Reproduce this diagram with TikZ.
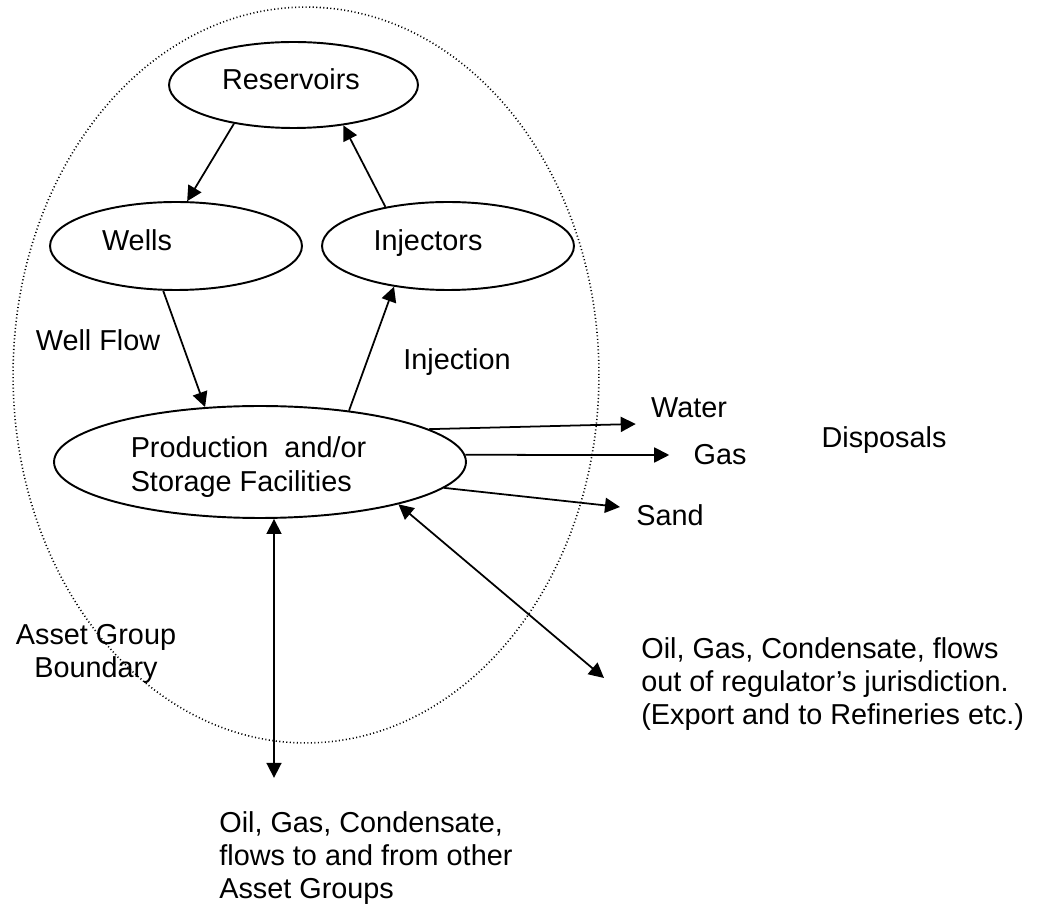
\documentclass[tikz,border=0pt]{standalone}
\usepackage{fontspec}
\setmainfont{Liberation Sans}
\usetikzlibrary{shapes.geometric, arrows.meta}
\tikzset{
    %Define standard arrow tip
    >={Triangle[length=0.3cm,width=0.3cm]},
    %Define style for the ellipses
    blob/.style={
           ellipse,
           draw=black, line width=1.1pt,
           minimum width=5.04cm,
           minimum height=1.76cm,
           inner sep=0pt},
    %plain text
    txt/.style={
           inner sep=0pt,
           align=left},
    %text inside the ellipses
    lab/.style={
           txt,
           text height=0.72em,
           text depth=0.2em},
    % Define arrow styles
    pil/.style={
           ->,
           line width=1pt},
    dpil/.style={
           <->,
           line width=1pt},
    %dotted boundary
    bound/.style={
           line width=0.9pt,
           dash pattern=on 0.6pt off 1.4pt}
}

\begin{document}
\begin{tikzpicture}[x=0.02cm, y=-0.02cm, font=\fontsize{16.4pt}{19pt}\selectfont]

\useasboundingbox (0,0) rectangle (1042,908);

%\fill[white] (0,0) rectangle (1042,908);

\draw[bound] (306,375) ellipse [x radius=5.86cm, y radius=7.36cm];

\node[blob] (res) at (293.5,85) [minimum width=4.98cm, minimum height=1.72cm,
      label={[lab, xshift=-0.05cm]center:Reservoirs}] {};
\node[blob] (wells) at (176,246) [label={[lab, xshift=-0.78cm]center:Wells}] {};
\node[blob] (inj) at (448,246) [label={[lab, xshift=-0.4cm]center:Injectors}] {};
\node[blob] (prod) at (260,462) [minimum width=8.24cm, minimum height=2.24cm,
      label={[txt, xshift=-0.23cm, yshift=-0.1cm]center:{Production\ \ and/or\\Storage Facilities}}] {};

\node[txt] (flow) at (98,340) {Well Flow};
\node[txt] (injl) at (457,362) {Injection};
\node[txt] (water) at (689,408) {Water};
\node[txt] (gas) at (720,455) {Gas};
\node[txt] (sand) at (670,515) {Sand};
\node[txt] (disp) at (884,440) {Disposals};
\node[txt, align=center] (agb) at (96,654) {Asset Group\\Boundary};
\node[txt, anchor=west] (exits) at (641,684) {Oil, Gas, Condensate, flows\\out of regulator’s jurisdiction.\\(Export and to Refineries etc.)};
\node[txt, anchor=west] (others) at (219,858) {Oil, Gas, Condensate,\\flows to and from other\\Asset Groups};

\draw[pil] (res.213) -- (wells.76);
\draw[pil] (inj.148) -- (res.321);
\draw[pil] (wells.254) -- (prod.135);
\draw[pil] (prod.30) -- (inj.217);
\draw[pil] (prod.11) -- ([shift={(-15,16)}]water.west);
\draw[pil] (prod.2) -- ([shift={(-24,0)}]gas.west);
\draw[pil] (prod.352) -- ([shift={(-16,-8)}]sand.west);
\draw[dpil] ([xshift=0.28cm]prod.south) -- ([shift={(55,-33)}]others.north west);
\draw[dpil] (prod.343) -- ([shift={(-37,-6)}]exits.west);

\end{tikzpicture}
\end{document}
